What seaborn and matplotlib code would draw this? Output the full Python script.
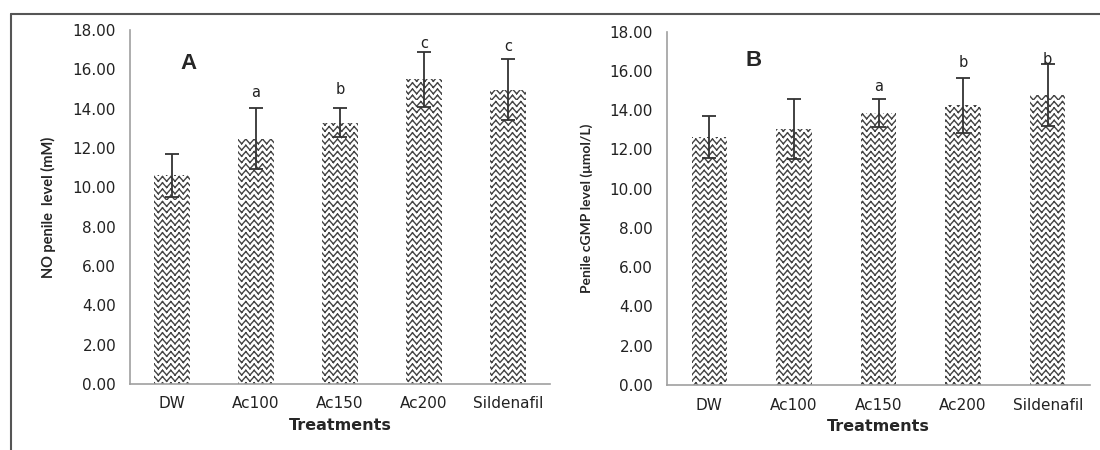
import numpy as np
import matplotlib
matplotlib.use("Agg")
import matplotlib.pyplot as plt
from matplotlib import hatch as mhatch
from matplotlib.path import Path
import seaborn as sns

# data
treatments = ["DW", "Ac100", "Ac150", "Ac200", "Sildenafil"]
no_level = [10.61, 12.48, 13.29, 15.50, 14.97]
no_err = [1.08, 1.55, 0.72, 1.40, 1.55]
no_letters = ["", "a", "b", "c", "c"]
no_letter_y = [0, 14.8, 15.0, 17.3, 17.15]
cgmp_level = [12.61, 13.04, 13.84, 14.24, 14.77]
cgmp_err = [1.07, 1.55, 0.71, 1.40, 1.56]
cgmp_letters = ["", "", "a", "b", "b"]
cgmp_letter_y = [0, 0, 15.2, 16.45, 16.6]


# zigzag hatch (takes the place of the '-' hatch), drawn as separate
# two-point segments so agg's hatch fill does not turn them into triangles
class ZigZagHatch(mhatch.HatchPatternBase):
    teeth = 12

    def __init__(self, hatch, density):
        self.num_lines = hatch.count('-') * 8
        self.num_vertices = self.num_lines * self.teeth * 4

    def set_vertices_and_codes(self, vertices, codes):
        step = 1.0 / self.num_lines
        amp = step * 0.75
        xs = np.linspace(0, 1, 2 * self.teeth + 1)
        k = 0
        for i in range(self.num_lines):
            y0 = i * step
            for j in range(2 * self.teeth):
                ya = y0 + amp * (j % 2)
                yb = y0 + amp * ((j + 1) % 2)
                vertices[k] = (xs[j], ya)
                vertices[k + 1] = (xs[j + 1], yb)
                codes[k] = Path.MOVETO
                codes[k + 1] = Path.LINETO
                k += 2


mhatch._hatch_types[0] = ZigZagHatch

sns.set_style("white")
plt.rcParams['hatch.linewidth'] = 1.0
plt.rcParams['font.family'] = ['DejaVu Sans']

fig = plt.figure(figsize=(11, 4.5), dpi=100)
ax1 = fig.add_axes([0.1182, 0.1467, 0.3818, 0.7866])
ax2 = fig.add_axes([0.6064, 0.1444, 0.3845, 0.7852])

# frame around the figure (top and left edges)
fig.add_artist(plt.Line2D([0.0097, 1.0], [0.969, 0.969], color='#555555', lw=1.5))
fig.add_artist(plt.Line2D([0.0097, 0.0097], [0.0, 0.969], color='#555555', lw=1.5))

panels = [
    (ax1, no_level, no_err, no_letters, no_letter_y, "NO penile  level (mM)", 10.5, "A", 0.20, 16.3),
    (ax2, cgmp_level, cgmp_err, cgmp_letters, cgmp_letter_y, "Penile cGMP level (\u03bcmol/L)", 10, "B", 0.52, 16.55),
]

for ax, vals, errs, letters, letter_y, ylab, ysize, tag, tx, ty in panels:
    sns.barplot(x=treatments, y=vals, ax=ax, width=0.42, color='white',
                edgecolor='#444444', linewidth=0, hatch='--')
    ax.errorbar(range(len(vals)), vals, yerr=errs, fmt='none', ecolor='#333333',
                elinewidth=1.3, capsize=5, capthick=1.3)
    for i, (lab, ly) in enumerate(zip(letters, letter_y)):
        if lab:
            ax.text(i, ly, lab, ha='center', va='center', fontsize=10.5,
                    color='#222222')
    ax.text(tx, ty, tag, ha='center', va='center', fontsize=16, fontweight='bold',
            family='Liberation Sans')

    ax.set_ylim(0, 18)
    ax.set_xlim(-0.5, 4.5)
    ticks = np.arange(0, 18.1, 2)
    ax.set_yticks(ticks)
    ax.set_yticklabels([f"{t:.2f}" for t in ticks])
    ax.set_xticks(range(len(treatments)))
    ax.set_xticklabels(treatments)
    ax.set_xticks([i - 0.5 for i in range(len(treatments) + 1)], minor=True)
    ax.tick_params(axis='x', which='major', length=0, pad=9, labelsize=11,
                   labelcolor='#222222')
    ax.tick_params(axis='x', which='minor', length=5, color='#a0a0a0', width=1)
    ax.tick_params(axis='y', length=5, color='#a0a0a0', width=1, labelsize=11,
                   labelcolor='#222222', pad=5)
    for s in ['top', 'right']:
        ax.spines[s].set_visible(False)
    for s in ['left', 'bottom']:
        ax.spines[s].set_color('#a0a0a0')
        ax.spines[s].set_linewidth(1.2)
    ax.set_xlabel("Treatments", fontsize=11.5, fontweight='bold', labelpad=5)
    ax.set_ylabel(ylab, fontsize=ysize, fontweight='bold', family='Lato', labelpad=12)

fig.savefig("out.png", dpi=100)
